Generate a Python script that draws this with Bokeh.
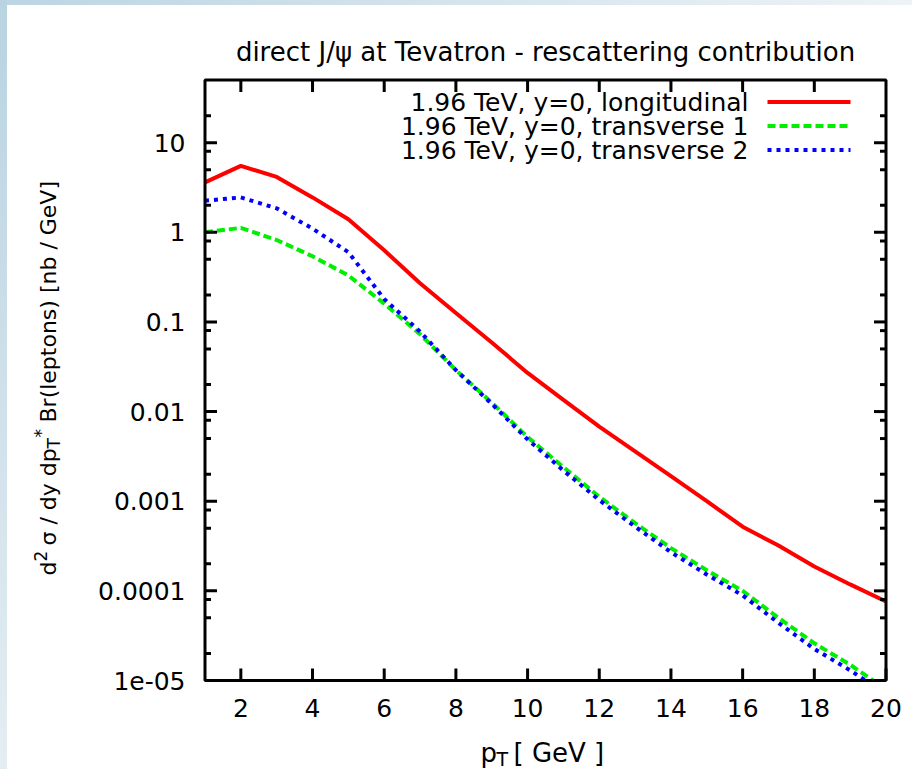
import math

from bokeh.core.properties import value
from bokeh.embed import file_html
from bokeh.models import Label, LinearScale, Range1d
from bokeh.plotting import figure
from bokeh.resources import INLINE

# ---- data: rescattering contribution to direct J/psi at 1.96 TeV, y = 0 ----
pt = [1, 2, 3, 4, 5, 6, 7, 8, 9, 10, 11, 12, 13, 14, 15, 16, 17, 18, 19, 20]
longitudinal = [3.6, 5.5, 4.15, 2.45, 1.4, 0.63, 0.27, 0.126, 0.059, 0.027,
                0.0135, 0.0068, 0.0036, 0.0019, 0.001, 0.00052, 0.00032,
                0.000187, 0.000118, 0.000076]
transverse1 = [1.0, 1.12, 0.82, 0.54, 0.33, 0.16, 0.073, 0.029, 0.0126, 0.0052,
               0.0024, 0.00112, 0.00057, 0.0003, 0.00017, 0.0001, 0.00005,
               0.000026, 0.000015, 0.000008]
transverse2 = [2.25, 2.45, 1.85, 1.1, 0.6, 0.18, 0.078, 0.029, 0.0122, 0.0049,
               0.0022, 0.00103, 0.00052, 0.00027, 0.000152, 0.000089, 0.000044,
               0.0000225, 0.000013, 0.000007]
series_labels = ["1.96 TeV, y=0, longitudinal",
                 "1.96 TeV, y=0, transverse 1",
                 "1.96 TeV, y=0, transverse 2"]

x_ticks = [2, 4, 6, 8, 10, 12, 14, 16, 18, 20]
x_tick_labels = ["2", "4", "6", "8", "10", "12", "14", "16", "18", "20"]
y_ticks = [1e-5, 1e-4, 1e-3, 1e-2, 1e-1, 1, 10]
y_tick_labels = ["1e-05", "0.0001", "0.001", "0.01", "0.1", "1", "10"]

title_text = "direct J/\u03c8 at Tevatron - rescattering contribution"

X_MIN, X_MAX = 1, 20
Y_MIN, Y_MAX = 1e-5, 50
y_minor_ticks = [m * 10.0 ** e for e in range(-5, 2) for m in (2, 5, 8)
                 if m * 10.0 ** e < Y_MAX]

# ---- geometry (canvas pixels, origin top-left) ----
W, H = 912, 769
FL, FR, FT, FB = 204.5, 885.5, 79.5, 680.0   # plot box edges
MAJOR_LEN, MINOR_LEN = 12, 6
FONT = "DejaVu Sans"
TICK_FS = "25px"
TITLE_FS = "26px"
KEY_FS = "25px"
LABEL_FS = "22px"
SMALL_FS = "17px"

# data ranges chosen so that [X_MIN, X_MAX] x [Y_MIN, Y_MAX] fills the plot box
ppx = (FR - FL) / (X_MAX - X_MIN)
dec = (FB - FT) / math.log10(Y_MAX / Y_MIN)
x_range = Range1d(X_MIN - FL / ppx, X_MAX + (W - FR) / ppx)
y_range = Range1d(Y_MIN / 10 ** ((H - FB) / dec), Y_MIN * 10 ** (FB / dec))

p = figure(width=W, height=H, x_range=x_range, y_range=y_range, y_axis_type="log",
           output_backend="svg", toolbar_location=None, title=None,
           x_axis_location=None, y_axis_location=None,
           min_border=0, background_fill_color=None, border_fill_color=None,
           outline_line_color=None)
p.styles = {
    "background": ("linear-gradient(to bottom, #b9d3e1, #e4edf2) 0 0 / 7px 100% no-repeat, "
                   "linear-gradient(to right, #bcd5e3, #edf3f6) 0 0 / 100% 5px no-repeat, "
                   "#ffffff")
}
p.grid.visible = False

# canvas-pixel ranges for the box, ticks, tick labels and key
p.extra_x_ranges = {"px": Range1d(0, W)}
p.extra_y_ranges = {"px": Range1d(0, H)}
p.extra_x_scales = {"px": LinearScale()}
p.extra_y_scales = {"px": LinearScale()}


def py(cy):
    return H - cy


# ---- curves ----
p.line(pt, longitudinal, line_color="#ff0000", line_width=4)
p.line(pt, transverse1, line_color="#00ee00", line_width=4, line_dash="8 4")
p.line(pt, transverse2, line_color="#0000ff", line_width=4, line_dash="4 5")

# keep the curves inside the box at the bottom edge
p.quad(left=FL - 3, right=FR + 4, bottom=0, top=py(FB), x_range_name="px",
       y_range_name="px", fill_color="white", line_color=None)

# ---- plot box and ticks ----
p.quad(left=X_MIN, right=X_MAX, bottom=Y_MIN, top=Y_MAX, fill_color=None,
       line_color="black", line_width=3)
tick = dict(line_color="black", line_width=3)
p.segment(x0=x_ticks, x1=x_ticks, y0=py(FB), y1=py(FB - MAJOR_LEN), y_range_name="px", **tick)
p.segment(x0=x_ticks[:-1], x1=x_ticks[:-1], y0=py(FT), y1=py(FT + MAJOR_LEN),
          y_range_name="px", **tick)
p.segment(x0=FL, x1=FL + MAJOR_LEN, y0=y_ticks, y1=y_ticks, x_range_name="px", **tick)
p.segment(x0=FL, x1=FL + MINOR_LEN, y0=y_minor_ticks, y1=y_minor_ticks, x_range_name="px", **tick)
p.segment(x0=FR, x1=FR - MAJOR_LEN, y0=y_ticks, y1=y_ticks, x_range_name="px", **tick)
p.segment(x0=FR, x1=FR - MINOR_LEN, y0=y_minor_ticks, y1=y_minor_ticks, x_range_name="px", **tick)

# ---- tick labels ----
p.text(x=x_ticks, y=[py(707)] * len(x_ticks), text=x_tick_labels, y_range_name="px",
       text_font=value(FONT), text_font_size=TICK_FS, text_color="black",
       text_align="center", text_baseline="middle")
p.text(x=[185] * len(y_ticks), y=y_ticks, text=y_tick_labels, x_range_name="px",
       text_font=value(FONT), text_font_size=TICK_FS, text_color="black",
       text_align="right", text_baseline="middle")


def canvas_label(text, cx, cy, size=LABEL_FS, align="left", baseline="alphabetic", angle=0.0):
    """Text placed by canvas pixel position."""
    p.add_layout(Label(x=cx, y=py(cy), x_units="screen", y_units="screen",
                       text=text, text_font=FONT, text_font_size=size,
                       text_color="black", text_align=align, text_baseline=baseline,
                       angle=angle))


# ---- key: text on the left, line sample on the right ----
key_styles = [dict(line_color="#ff0000"),
              dict(line_color="#00ee00", line_dash="8 4"),
              dict(line_color="#0000ff", line_dash="4 5")]
key_rows = [101.5, 125.5, 149.5]
for label, row, st in zip(series_labels, key_rows, key_styles):
    canvas_label(label, 748, row, size=KEY_FS, align="right", baseline="middle")
    p.segment(x0=[767], x1=[850], y0=[py(row)], y1=[py(row)], line_width=4,
              x_range_name="px", y_range_name="px", **st)

# ---- title and axis titles ----
canvas_label(title_text, (FL + FR) / 2, 51, size=TITLE_FS, align="center")

canvas_label("p", 480, 752, size=TITLE_FS)
canvas_label("T", 496, 758, size="19px")
canvas_label("[ GeV ]", 513, 752, size=TITLE_FS)

a = math.pi / 2
canvas_label("d", 48, 575, angle=a)
canvas_label("2", 40, 561, size=SMALL_FS, angle=a)
canvas_label("\u03c3 / dy dp", 48, 545, angle=a)
canvas_label("T", 53, 448, size=SMALL_FS, angle=a)
canvas_label("*", 40, 437, size=SMALL_FS, angle=a)
canvas_label("Br(leptons) [nb / GeV]", 48, 422, angle=a)

open("out.html", "w").write(file_html(p, INLINE))
